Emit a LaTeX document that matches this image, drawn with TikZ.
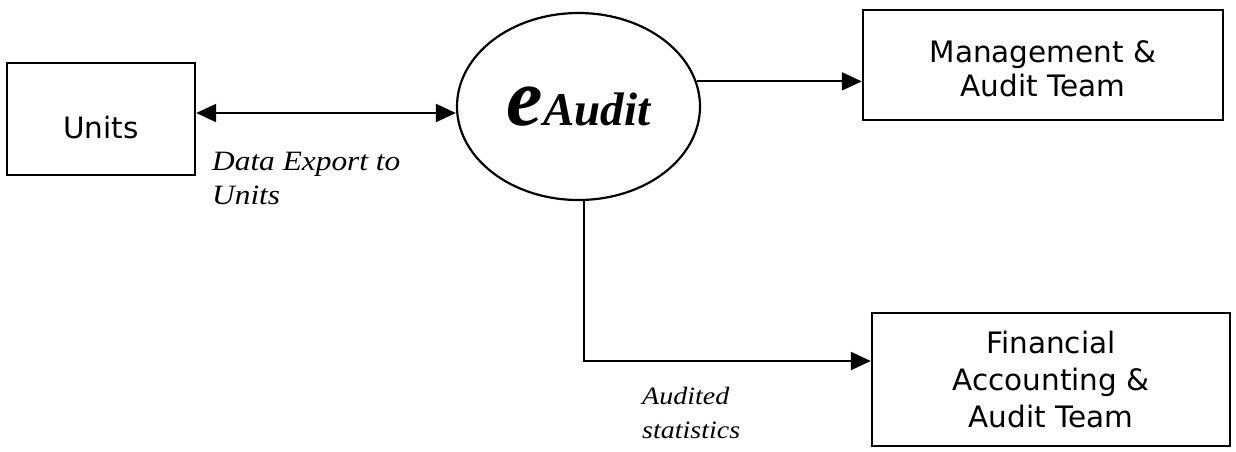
\documentclass[tikz,border=0pt]{standalone}
\usepackage{fontspec}
\setmainfont{Liberation Serif}
\setsansfont{DejaVu Sans}
\newfontfamily\lblfont{Liberation Serif}[FakeStretch=1.12]
\usetikzlibrary{arrows.meta,shapes.geometric,calc}
\begin{document}
\begin{tikzpicture}[x=1pt,y=-1pt,
  box/.style={draw, line width=2.4pt, rectangle, inner sep=0pt,
    font=\sffamily\fontsize{29.5}{34}\selectfont, align=center},
  arr/.style={line width=2.2pt, -{Triangle[length=20pt,width=18pt]}},
  darr/.style={line width=2.2pt, {Triangle[length=20pt,width=18pt]}-{Triangle[length=20pt,width=18pt]}},
  lbl/.style={inner sep=0pt, anchor=north west, align=left}]
\useasboundingbox (0,0) rectangle (1236,451);
\fill[white] (0,0) rectangle (1236,451);

\node[box, minimum width=188pt, minimum height=112pt, text height=40pt] (units) at (101,119) {Units};
\node[box, minimum width=360pt, minimum height=110pt, text height=64pt] (mgmt) at (1043,65) {Management \&\\Audit Team};
\node[box, minimum width=358pt, minimum height=133pt,
  font=\sffamily\fontsize{29.5}{37}\selectfont] (fin) at (1051,379.5) {Financial\\Accounting \&\\Audit Team};
\node[draw, ellipse, line width=2.2pt, minimum width=243pt, minimum height=187pt, inner sep=0pt,
  font=\bfseries\itshape] (eaudit) at (578.5,106.5)
  {{\fontsize{82}{82}\selectfont e}{\fontsize{47}{47}\selectfont Audit}};

\draw[darr] (units.east |- 0,113) -- (eaudit.west |- 0,113);
\draw[arr] (eaudit.12) -- (eaudit.12 -| mgmt.west);
\draw[arr] ($(eaudit.south)+(5.5,0)$) |- (fin.west |- 0,361);

\node[lbl, font=\lblfont\itshape\fontsize{28}{34}\selectfont] (lab1) at (212,152) {Data Export to\\Units};
\node[lbl, font=\lblfont\itshape\fontsize{25}{34}\selectfont] (lab2) at (642,387) {Audited\\statistics};
\end{tikzpicture}
\end{document}
